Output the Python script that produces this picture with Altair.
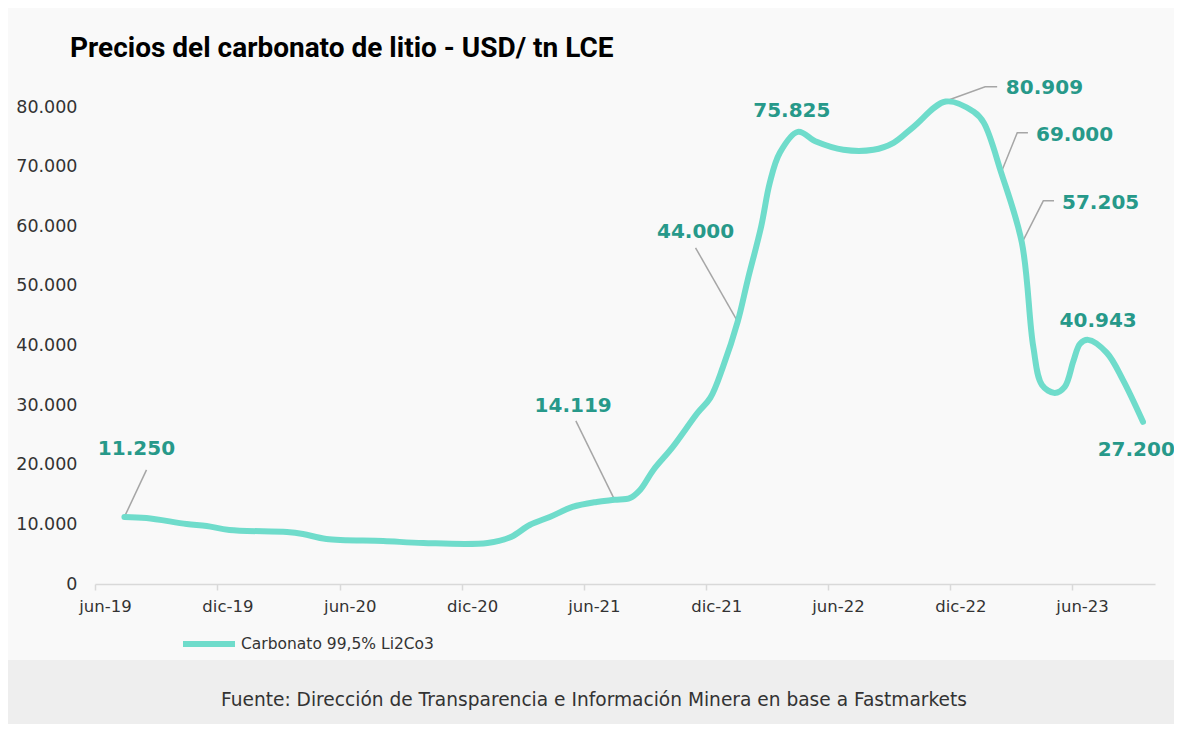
import altair as alt
import pandas as pd

# ---------------- data ----------------
fechas = ["2019-07-15","2019-08-17","2019-10-16","2019-11-15","2019-12-19","2020-03-14","2020-04-07",
          "2020-05-12","2020-08-05","2020-10-04","2021-01-08","2021-02-12","2021-03-12","2021-04-11",
          "2021-05-15","2021-06-20","2021-07-17","2021-08-09","2021-08-24","2021-09-13","2021-10-12",
          "2021-11-18","2021-12-07","2021-12-26","2022-01-17","2022-02-01","2022-02-21","2022-03-06",
          "2022-03-21","2022-04-17","2022-05-15","2022-06-24","2022-08-08","2022-09-07","2022-10-07",
          "2022-11-24","2023-01-05","2023-01-20","2023-02-15","2023-03-18","2023-04-04","2023-04-17",
          "2023-05-06","2023-05-21","2023-06-03","2023-06-13","2023-06-25","2023-07-23","2023-08-16",
          "2023-09-15"]
precios = [11250,11070,10070,9730,9060,8720,8390,
           7550,7210,6880,6880,7890,9900,11240,
           12920,13760,14119,14430,15770,19130,22990,
           28690,31210,36410,44000,51000,59900,67280,
           72320,75825,74160,72820,72820,73990,76680,
           80909,79190,77350,69000,57205,39770,33390,
           32050,33050,37400,40300,40943,38760,34230,
           27200]
serie = "Carbonato 99,5% Li2Co3"

# annotation labels (anchored in data space)
etiquetas = ["11.250","14.119","44.000","75.825","80.909","69.000","57.205","40.943","27.200"]
etq_fecha = ["2019-08-02","2021-05-16","2021-11-15","2022-04-08","2023-02-22","2023-04-08","2023-05-17","2023-07-10","2023-09-05"]
etq_valor = [22650,29870,59060,79360,83220,75340,63930,44130,22480]
etq_alineacion = ["center","center","center","center","left","left","left","center","center"]

# leader lines
guia_id = [1,1, 2,2, 3,3, 4,4,4, 5,5,5, 6,6,6]
guia_fecha = ["2019-07-15","2019-08-17", "2021-07-17","2021-05-20", "2022-01-17","2021-11-15",
              "2022-11-17","2023-01-22","2023-02-09", "2023-02-15","2023-03-11","2023-03-27",
              "2023-03-18","2023-04-19","2023-05-05"]
guia_valor = [11250,19130, 14119,27350, 44000,56380,
              80700,83390,83390, 69000,75670,75670,
              57205,64260,64260]

titulo = "Precios del carbonato de litio - USD/ tn LCE"
fuente = "Fuente: Dirección de Transparencia e Información Minera en base a Fastmarkets"

meses_ticks = [(2019,6),(2019,12),(2020,6),(2020,12),(2021,6),(2021,12),(2022,6),(2022,12),(2023,6)]
y_ticks = [0,10000,20000,30000,40000,50000,60000,70000,80000]

# ---------------- tables ----------------
df = pd.DataFrame({"fecha": fechas, "precio": precios, "serie": serie})
df_etq = pd.DataFrame({"fecha": etq_fecha, "precio": etq_valor, "texto": etiquetas, "al": etq_alineacion})
df_guia = pd.DataFrame({"id": guia_id, "fecha": guia_fecha, "precio": guia_valor,
                        "orden": list(range(len(guia_id)))})

W, H = 1060, 477
FONT = "DejaVu Sans"
TEAL = "#6FDCCB"
TEAL_TXT = "#27998A"

x_enc = alt.X("fecha:T", title=None,
              scale=alt.Scale(type="utc",
                              domain=[alt.DateTime(year=2019, month=6, date=1, utc=True),
                                      alt.DateTime(year=2023, month=10, date=3, utc=True)]),
              axis=alt.Axis(values=[alt.DateTime(year=a, month=m, date=1, utc=True) for a, m in meses_ticks],
                            labelExpr="(utcmonth(datum.value) == 5 ? 'jun-' : 'dic-') + utcFormat(datum.value, '%y')",
                            grid=False, domainColor="#D9D9D9", domainWidth=1.5,
                            tickColor="#D9D9D9", tickWidth=1.5, tickSize=6,
                            labelFont=FONT, labelFontSize=16.5, labelColor="#333333",
                            labelPadding=8, labelOffset=10, labelFlush=False))
y_enc = alt.Y("precio:Q", title=None,
              scale=alt.Scale(domain=[0, 80000], nice=False, zero=True),
              axis=alt.Axis(values=y_ticks, grid=False, domain=False, ticks=False,
                            labelExpr="datum.value == 0 ? '0' : replace(format(datum.value, ','), ',', '.')",
                            labelFont=FONT, labelFontSize=17.5, labelColor="#333333",
                            labelPadding=18))

linea = alt.Chart(df).mark_line(interpolate="catmull-rom", strokeWidth=6, strokeCap="round").encode(
    x=x_enc, y=y_enc,
    color=alt.Color("serie:N", scale=alt.Scale(domain=[serie], range=[TEAL]),
                    legend=alt.Legend(title=None, orient="none", legendX=85, legendY=508,
                                      symbolType="stroke", symbolSize=2704, symbolStrokeWidth=6,
                                      labelFont=FONT, labelFontSize=15.5, labelColor="#333333",
                                      labelOffset=3, labelLimit=0))
)

guias = alt.Chart(df_guia).mark_line(color="#A6A6A6", strokeWidth=1.5).encode(
    x=x_enc, y=y_enc, detail="id:N", order="orden:Q")

etq_c = alt.Chart(df_etq).transform_filter("datum.al == 'center'").mark_text(
    font=FONT, fontWeight="bold", fontSize=20, color=TEAL_TXT, align="center", baseline="middle"
).encode(x=x_enc, y=y_enc, text="texto:N")
etq_l = alt.Chart(df_etq).transform_filter("datum.al == 'left'").mark_text(
    font=FONT, fontWeight="bold", fontSize=20, color=TEAL_TXT, align="left", baseline="middle"
).encode(x=x_enc, y=y_enc, text="texto:N")

pie = pd.DataFrame({"texto": [fuente]})
banda = alt.Chart(pie).mark_rect(color="#EEEEEE").encode(
    x=alt.value(-87), x2=alt.value(1079), y=alt.value(553), y2=alt.value(617))
pie_txt = alt.Chart(pie).mark_text(font=FONT, fontSize=18.6, color="#333333", align="center",
                                   baseline="middle").encode(
    x=alt.value(499), y=alt.value(593), text="texto:N")

chart = alt.layer(banda, pie_txt, guias, linea, etq_c, etq_l).properties(
    width=W, height=H,
    title=alt.TitleParams(titulo, anchor="start", frame="group", dx=-25, offset=15,
                          font="Roboto", fontSize=28, fontWeight="bold", color="#000000"),
    autosize=alt.AutoSizeParams(type="none"),
    padding={"left": 87, "top": 99, "right": 19, "bottom": 140},
    background="#F9F9F9",
).configure_view(stroke=None)

chart.save("out.html", embed_options={"renderer": "svg", "actions": False})
